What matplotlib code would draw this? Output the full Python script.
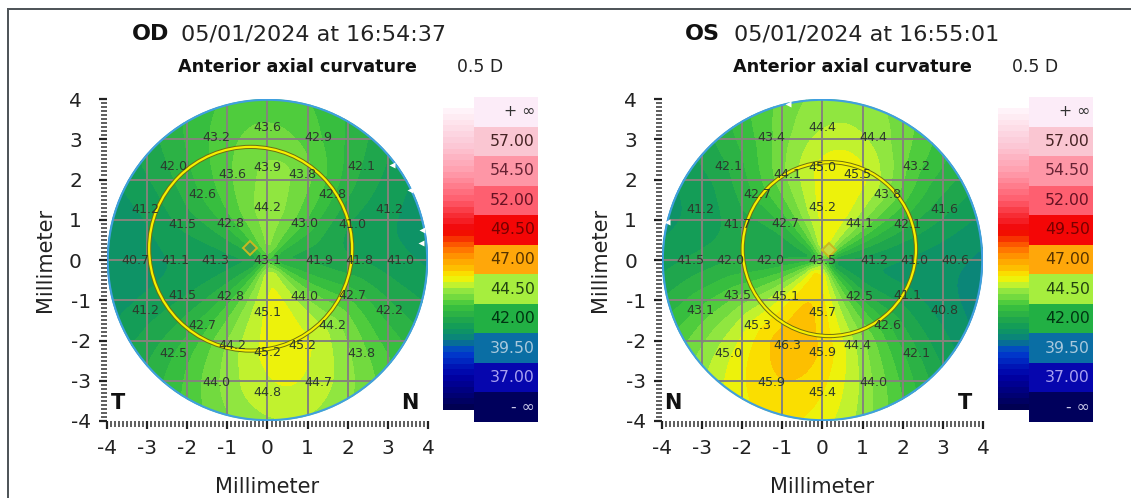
import numpy as np
import matplotlib
matplotlib.use('Agg')
import matplotlib.pyplot as plt
from matplotlib.colors import LinearSegmentedColormap
from matplotlib.patches import Circle, Rectangle

W, H = 1131, 498
plt.rcParams['font.family'] = ['DejaVu Sans']
plt.rcParams['axes.unicode_minus'] = False

# readings: centre, ring at 1.3 mm (8 pts), rings at 2.3 and 3.3 mm (16 pts), estimated edge colour values
angles8 = np.arange(0, 360, 45)
angles16 = np.arange(0, 360, 22.5)

od_centre = 43.1
od_r1 = [41.9, 43.0, 44.2, 42.8, 41.3, 42.8, 45.1, 44.0]
od_r2 = [41.8, 41.0, 42.8, 43.8, 43.9, 43.6, 42.6, 41.5, 41.1, 41.5, 42.7, 44.2, 45.2, 45.2, 44.2, 42.7]
od_r3 = [41.0, 41.2, 42.1, 42.9, 43.6, 43.2, 42.0, 41.2, 40.7, 41.2, 42.5, 44.0, 44.8, 44.7, 43.8, 42.2]
od_edge = [40.5, 41.0, 41.5, 42.5, 43.3, 42.8, 41.5, 41.0, 40.4, 41.0, 42.0, 43.5, 44.3, 44.0, 43.2, 42.0]

os_centre = 43.5
os_r1 = [41.2, 44.1, 45.2, 42.7, 42.0, 45.1, 45.7, 42.5]
os_r2 = [41.0, 42.1, 43.8, 45.5, 45.0, 44.1, 42.7, 41.7, 42.0, 43.5, 45.3, 46.3, 45.9, 44.4, 42.6, 41.1]
os_r3 = [40.6, 41.6, 43.2, 44.4, 44.4, 43.4, 42.1, 41.2, 41.5, 43.1, 45.0, 45.9, 45.4, 44.0, 42.1, 40.8]
os_edge = [40.2, 41.2, 42.8, 44.0, 44.0, 43.0, 41.8, 41.0, 41.0, 42.5, 44.5, 45.5, 45.0, 43.5, 41.5, 40.5]

legend_labels = ['+ ∞', '57.00', '54.50', '52.00', '49.50', '47.00', '44.50', '42.00', '39.50', '37.00', '- ∞']
legend_colors = ['#fcecf8', '#fac6d2', '#fe96a6', '#fe5f70', '#f40606', '#ffa70a', '#a6ee3e', '#22b044',
                 '#0a6ea4', '#0606ae', '#00005c']
legend_text = ['#333333', '#442222', '#662233', '#661122', '#770000', '#553300', '#224411', '#003311',
               '#a8c8dc', '#a8a0f0', '#c8c8e8']

cmap_nodes = [(34, '#00004c'), (37, '#0000a8'), (39, '#0040d0'), (40, '#0a8080'), (41, '#109a5c'),
              (41.5, '#18a052'), (42, '#26ac48'), (43, '#3cc43c'), (44, '#80e040'), (44.5, '#a8f040'),
              (45, '#e4f414'), (45.5, '#f8f000'), (46, '#fcc800'), (47, '#ffa000'), (48, '#ff6a00'),
              (49.5, '#f00000'), (52, '#ff5a6a'), (54.5, '#ff9cac'), (57, '#fccad8'), (60, '#fff6fb')]
cmap = LinearSegmentedColormap.from_list('axial', [((v-34)/26, c) for v, c in cmap_nodes])
levels = np.arange(34, 60.5, 0.5)


def ax_px(left, top, right, bottom):
    return fig.add_axes([left/W, 1-bottom/H, (right-left)/W, (bottom-top)/H])


def ring_curve(vals, th, mmax):
    # smooth periodic curve through one ring of readings
    coef = np.fft.rfft(vals)/len(vals)
    out = np.full(th.shape, coef[0].real)
    for m in range(1, min(mmax, len(coef)-1)+1):
        k = 1.0 if 2*m == len(vals) else 2.0
        out = out + k*(coef[m]*np.exp(1j*m*th)).real
    return out


def eye_field(centre, r1, r2, r3, edge):
    th = np.radians(np.linspace(0, 360, 361))
    rr = np.linspace(0, 4.3, 216)
    c1 = ring_curve(np.array(r1), th, 4)
    c2 = ring_curve(np.array(r2), th, 4)
    c3 = ring_curve(np.array(r3), th, 3)
    c4 = ring_curve(np.array(edge), th, 3)
    near = centre+0.85*(c1-centre)
    nodes = np.array([0, 0.4, 1.3, 2.3, 3.3, 4.3])
    stack = np.vstack([np.full(th.shape, centre), near, c1, c2, c3, c4])
    z = np.array([np.interp(rr, nodes, stack[:, j]) for j in range(len(th))])
    # soften the kinks at the rings, keep the centre sharp
    kern = np.ones(15)/15
    for j in range(len(th)):
        zs = np.convolve(np.pad(z[j], 7, mode='edge'), kern, mode='valid')
        z[j, 25:] = zs[25:]
    t, r = np.meshgrid(th, rr, indexing='ij')
    return r*np.cos(t), r*np.sin(t), z


def eye_map(x0, centre, r1, r2, r3, edge, ring_c, ring_r, diamond, dia_fill, side, title, stamp, stamp_x, glitches):
    ax = ax_px(x0, 99, x0+321, 421)
    ax.set_xlim(-4, 4)
    ax.set_ylim(-4, 4)
    lab = [(0.0, 0.0, centre)]
    for rad, ang, vals in [(1.3, angles8, r1), (2.3, angles16, r2), (3.3, angles16, r3)]:
        for a, v in zip(ang, vals):
            lab.append((rad*np.cos(np.radians(a)), rad*np.sin(np.radians(a)), v))
    disc = Circle((0, 0), 4, transform=ax.transData, fc='none', ec='none')
    ax.add_patch(disc)
    X, Y, Z = eye_field(centre, r1, r2, r3, edge)
    cs = ax.contourf(X, Y, Z, levels=levels, cmap=cmap, vmin=34, vmax=60, zorder=1)
    cs.set_clip_path(disc)
    for m in np.arange(-3, 4):
        ax.plot([m, m], [-4, 4], color='#84847c', lw=1.4, zorder=2, clip_path=disc)
        ax.plot([-4, 4], [m, m], color='#84847c', lw=1.4, zorder=2, clip_path=disc)
    ax.add_patch(Circle((0, 0), 3.98, fc='none', ec='#3f9fe0', lw=1.5, zorder=3))
    ax.add_patch(Circle(ring_c, ring_r, fc='none', ec='#6e6e10', lw=3.0, zorder=4))
    ax.add_patch(Circle(ring_c, ring_r, fc='none', ec='#f6f000', lw=1.6, zorder=5))
    ax.plot(*diamond, marker='D', ms=7, mfc=dia_fill, mec='#c8b820', mew=1.4, zorder=6)
    for gx, gy in glitches:
        ax.plot(gx, gy, marker='<', ms=5, color='white', mec='none', zorder=3)
    for xx, yy, v in lab:
        ax.text(xx, yy, '%.1f' % v, ha='center', va='center', fontsize=9.1, color='#2c3a2c', zorder=7)
    ax.text(-3.72, -3.55, side[0], ha='center', va='center', fontsize=15, fontweight='bold', color='#111111')
    ax.text(3.55, -3.55, side[1], ha='center', va='center', fontsize=15, fontweight='bold', color='#111111')
    for s in ['top', 'right', 'left', 'bottom']:
        ax.spines[s].set_visible(False)
    ax.set_xticks(np.arange(-4, 5))
    ax.set_yticks(np.arange(-4, 5))
    ax.set_xticks(np.arange(-4, 4.01, 0.1), minor=True)
    ax.set_yticks(np.arange(-4, 4.01, 0.1), minor=True)
    ax.tick_params(which='major', length=6, width=1.6, color='#222222', labelsize=14.5, labelcolor='#222222', pad=7)
    ax.tick_params(which='minor', length=4, width=1.1, color='#333333')
    # positive y labels sit further from the axis than the negative ones
    for val, tick in zip(np.arange(-4, 5), ax.yaxis.get_major_ticks()):
        tick.set_pad(12 if val >= 0 else 5.5)
    ax.set_xlabel('Millimeter', fontsize=15, color='#222222', labelpad=13.5)
    ax.set_ylabel('Millimeter', fontsize=15, color='#222222')
    ax.yaxis.set_label_coords(-52/321, 0.5)
    ax.patch.set_alpha(0)
    fig.text((stamp_x-49)/W, 1-34/H, title, ha='left', va='center', fontsize=16, fontweight='bold', color='#111111')
    fig.text(stamp_x/W, 1-34/H, stamp, ha='left', va='center', fontsize=16, color='#222222')
    fig.text((x0+71)/W, 1-67/H, 'Anterior axial curvature', ha='left', va='center', fontsize=12.7, fontweight='bold', color='#111111')
    fig.text((x0+350)/W, 1-67/H, '0.5 D', ha='left', va='center', fontsize=12.4, color='#222222')

    # colour legend: stepped strip and labelled cells
    strip = ax_px(x0+336, 108, x0+367, 410)
    strip.pcolormesh([0, 1], levels, np.array(levels[:-1]+0.25).reshape(-1, 1), cmap=cmap, vmin=34, vmax=60)
    strip.axis('off')
    cells = ax_px(x0+367, 97, x0+431, 422)
    cells.set_xlim(0, 1)
    cells.set_ylim(len(legend_labels), 0)
    cells.barh(np.arange(len(legend_labels))+0.5, [1]*len(legend_labels), height=1.0, color=legend_colors)
    for i, t in enumerate(legend_labels):
        cells.text(0.95, i+0.5, t, ha='right', va='center', fontsize=11.3, color=legend_text[i])
    cells.axis('off')


fig = plt.figure(figsize=(W/100, H/100), dpi=100, facecolor='white')
fig.add_artist(Rectangle((7/W, 0), 2/W, 1-9/H, transform=fig.transFigure, color='#50565a', lw=0))
fig.add_artist(Rectangle((7/W, 1-10/H), 1, 2/H, transform=fig.transFigure, color='#50565a', lw=0))

eye_map(107, od_centre, od_r1, od_r2, od_r3, od_edge, (-0.42, 0.28), 2.53, (-0.43, 0.29), '#3f9f50',
        ('T', 'N'), 'OD', '05/01/2024 at 16:54:37', 181, [(3.82, 0.42), (3.85, 0.75), (3.1, 2.35), (3.55, 1.75)])
eye_map(662, os_centre, os_r1, os_r2, os_r3, os_edge, (0.17, 0.27), 2.16, (0.15, 0.25), '#c8dc40',
        ('N', 'T'), 'OS', '05/01/2024 at 16:55:01', 734, [(-0.85, 3.88), (-3.88, 0.95)])

fig.savefig('out.png', dpi=100)
